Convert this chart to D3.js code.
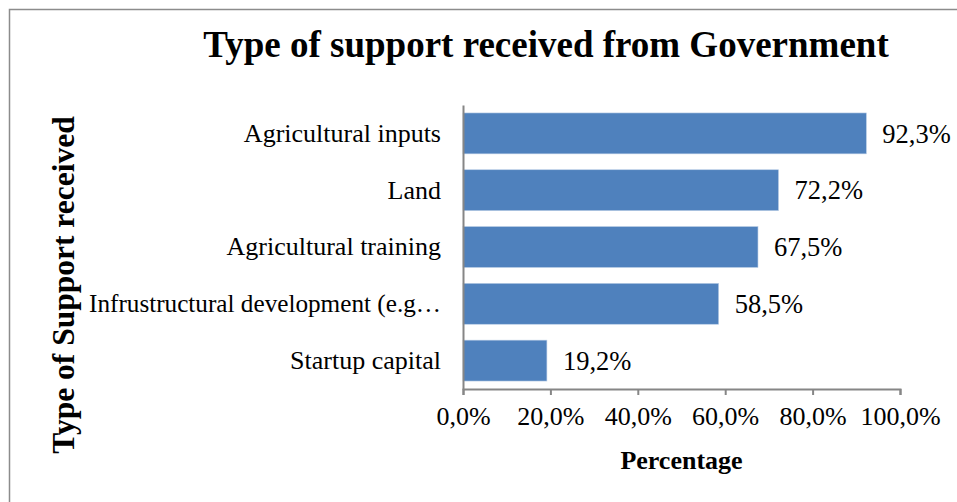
<!DOCTYPE html>
<html>
<head>
<meta charset="utf-8">
<script src="https://cdn.jsdelivr.net/npm/d3@7"></script>
<style>
  html, body { margin: 0; padding: 0; background: #fff; }
  svg { display: block; }
  text { font-family: "Liberation Serif", "Times New Roman", serif; fill: #000; }
</style>
</head>
<body>
<svg id="chart" width="957" height="502"></svg>
<script>
// Support types and share of respondents receiving each
const categories = [
  "Agricultural inputs",
  "Land",
  "Agricultural training",
  "Infrustructural development (e.g…",
  "Startup capital"
];
const values = [92.3, 72.2, 67.5, 58.5, 19.2];
const tickValues = [0, 20, 40, 60, 80, 100];

const chartTitle = "Type of support received from Government";
const xTitle = "Percentage";
const yTitle = "Type of Support received";

const W = 957, H = 502;
const margin = { left: 463, right: 57, top: 105, bottom: 113 };
const maxLabelWidth = 352; // room between the axis title and the category axis

const svg = d3.select("#chart");
const fmt = v => v.toFixed(1).replace(".", ",") + "%";

// outer frame
svg.append("rect")
  .attr("x", 9.5).attr("y", 9.5)
  .attr("width", W + 10).attr("height", H + 10)
  .attr("fill", "none").attr("stroke", "#8c8c8c").attr("stroke-width", 1.5);

const x = d3.scaleLinear().domain([0, 100]).range([margin.left, W - margin.right]);
const y = d3.scaleBand().domain(categories)
  .range([margin.top, H - margin.bottom])
  .paddingInner(0.28).paddingOuter(0.14);

// title
svg.append("text")
  .attr("x", 546).attr("y", 57)
  .attr("text-anchor", "middle")
  .style("font-size", "37px").style("font-weight", "bold")
  .text(chartTitle);

// bars
svg.append("g").selectAll("rect")
  .data(values)
  .join("rect")
  .attr("x", x(0))
  .attr("y", (d, i) => y(categories[i]))
  .attr("width", d => x(d) - x(0))
  .attr("height", y.bandwidth())
  .attr("fill", "#4f81bd")
  .attr("stroke", "#b9cde5").attr("stroke-width", 0.6);

// value labels
svg.append("g").selectAll("text")
  .data(values)
  .join("text")
  .attr("x", d => x(d) + 16)
  .attr("y", (d, i) => y(categories[i]) + y.bandwidth() / 2)
  .attr("dy", "0.35em")
  .style("font-size", "26.5px")
  .text(d => fmt(d));

// x axis
const xAxis = svg.append("g")
  .attr("transform", `translate(0,${H - margin.bottom})`)
  .call(d3.axisBottom(x).tickValues(tickValues).tickSize(6).tickPadding(12).tickFormat(fmt));
xAxis.select(".domain").attr("stroke", "#868686").attr("stroke-width", 2);
xAxis.selectAll(".tick line").attr("stroke", "#868686").attr("stroke-width", 2);
xAxis.selectAll(".tick text")
  .style("font-size", "26px").style("font-family", "'Liberation Serif', serif").attr("fill", "#000");

// y axis
const yAxis = svg.append("g")
  .attr("transform", `translate(${margin.left},0)`)
  .call(d3.axisLeft(y).tickSize(0).tickPadding(22));
yAxis.select(".domain").attr("stroke", "#868686").attr("stroke-width", 2);
yAxis.selectAll(".tick text")
  .style("font-size", "26px").style("font-family", "'Liberation Serif', serif").attr("fill", "#000")
  .each(function () {
    // squeeze any label that would run into the axis title
    if (this.getComputedTextLength() > maxLabelWidth) {
      d3.select(this).attr("textLength", maxLabelWidth).attr("lengthAdjust", "spacingAndGlyphs");
    }
  });

// axis titles
svg.append("text")
  .attr("x", x(50)).attr("y", 469)
  .attr("text-anchor", "middle")
  .style("font-size", "26px").style("font-weight", "bold")
  .text(xTitle);

svg.append("text")
  .attr("transform", `translate(74,285) rotate(-90)`)
  .attr("text-anchor", "middle")
  .style("font-size", "31.5px").style("font-weight", "bold")
  .text(yTitle);
</script>
</body>
</html>
